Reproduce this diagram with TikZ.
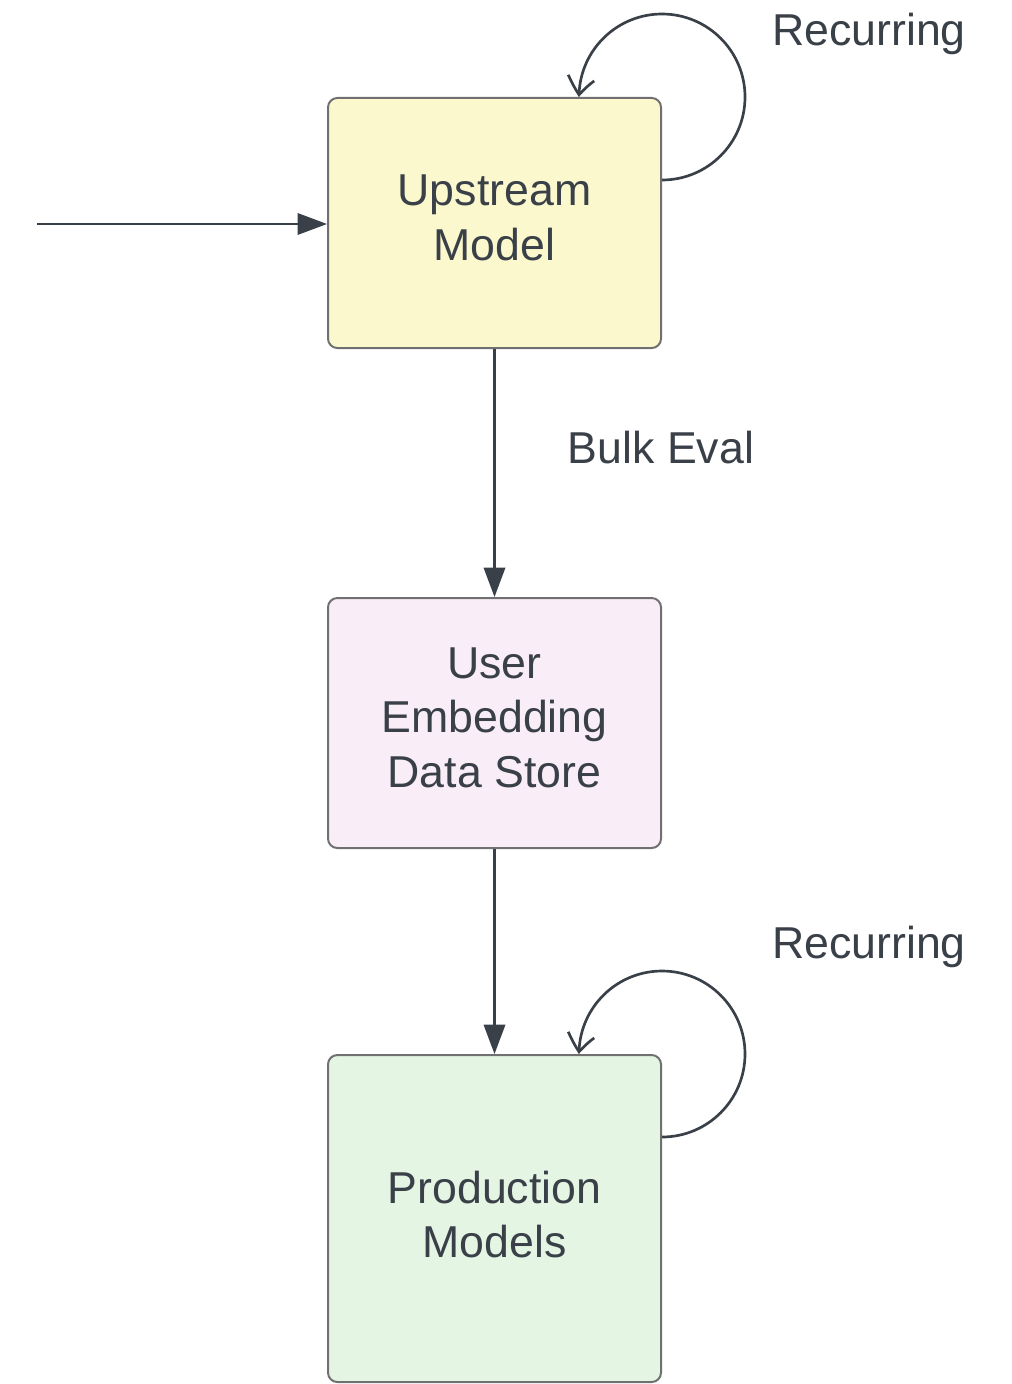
\documentclass[tikz,border=0pt]{standalone}
\usepackage{fontspec}
\setmainfont{Liberation Sans}
\usetikzlibrary{arrows.meta,bending}

\definecolor{ink}{HTML}{3A4048}
\definecolor{edge}{HTML}{707070}
\definecolor{upfill}{HTML}{FBF8CE}
\definecolor{embfill}{HTML}{F9EDF8}
\definecolor{prodfill}{HTML}{E4F5E3}

\tikzset{
  box/.style={draw=edge, line width=1.5pt, rounded corners=7pt,
    minimum width=249.75pt, inner sep=0pt},
  boxtext/.style={align=center, text=ink,
    font=\fontsize{33.5}{41}\selectfont, inner sep=0pt},
  flow/.style={draw=ink, line width=1.8pt, -{Triangle[length=22pt,width=16pt]}},
  selfloop/.style={draw=ink, line width=2pt, -{Straight Barb[length=13pt,width=20pt,bend]}},
  tag/.style={text=ink, font=\fontsize{33.5}{41}\selectfont, inner sep=0pt},
}

\begin{document}
\begin{tikzpicture}[x=0.75pt, y=-0.75pt]
  \useasboundingbox (0,0) rectangle (1012,1384);

  % process boxes, captions set slightly above centre
  \node[box, fill=upfill, minimum height=187.5pt,
        label={[boxtext, yshift=4pt]center:Upstream\\Model}] (up) at (494.5,223) {};
  \node[box, fill=embfill, minimum height=187.5pt,
        label={[boxtext, yshift=4pt]center:User\\Embedding\\Data Store}] (emb) at (494.5,723) {};
  \node[box, fill=prodfill, minimum height=245.25pt,
        label={[boxtext, yshift=3pt]center:Production\\Models}] (prod) at (494.5,1218.5) {};

  % incoming feed
  \coordinate (src) at (37,224);
  \draw[flow] (src) -- (src -| up.west);

  % vertical flow
  \draw[flow] (up.south) -- (emb.north);
  \draw[flow] (emb.south) -- (prod.north);
  \node[tag] (bulk) at (661,448) {Bulk Eval};

  % recurring loops, centred on each box's top-right corner
  \draw[selfloop] ([yshift=-62.25pt]up.north east) arc[start angle=-90, end angle=180, radius=62.25pt];
  \draw[selfloop] ([yshift=-62.25pt]prod.north east) arc[start angle=-90, end angle=180, radius=62.25pt];
  \node[tag] (rec1) at (869,34) {Recurring};
  \node[tag] (rec2) at (869,947) {Recurring};
\end{tikzpicture}
\end{document}
